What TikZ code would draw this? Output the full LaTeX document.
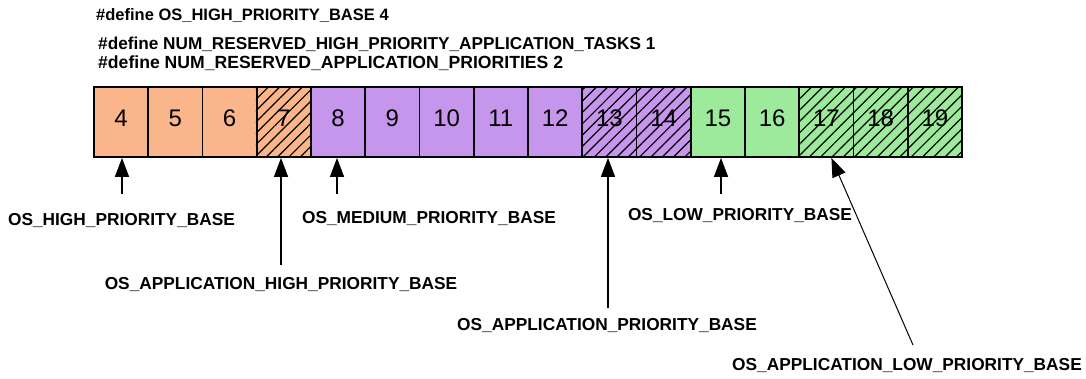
\documentclass[tikz,border=0pt]{standalone}
\usepackage{fontspec}
\setmainfont{Liberation Sans}
\usetikzlibrary{arrows.meta,patterns.meta}
\definecolor{hiprio}{HTML}{FAB68A}
\definecolor{medprio}{HTML}{C695EC}
\definecolor{loprio}{HTML}{9DEA9D}
\tikzset{slot/.style={draw,line width=1.8pt,minimum width=54.25pt,minimum height=70pt,inner sep=0pt,text depth=7pt,font=\fontsize{24}{24}\selectfont},
  rsv/.style={pattern={Lines[angle=45,distance=8pt,line width=1.2pt]}},
  defn/.style={anchor=west,inner sep=0pt,font=\bfseries\fontsize{16.5}{18}\selectfont},
  lbl/.style={inner sep=0pt,font=\bfseries\fontsize{17.3}{19}\selectfont},
  ptr/.style={-{Triangle[length=19pt,width=14pt]},line width=1.4pt}}

\begin{document}
\begin{tikzpicture}[x=1pt,y=-1pt]
  \useasboundingbox (0,0) rectangle (1086,378);
  \node[defn] (d1) at (96,16) {\#define OS\_HIGH\_PRIORITY\_BASE 4};
  \node[defn,font=\bfseries\fontsize{17.2}{18}\selectfont] (d2) at (98,44) {\#define NUM\_RESERVED\_HIGH\_PRIORITY\_APPLICATION\_TASKS 1};
  \node[defn,font=\bfseries\fontsize{17.6}{18}\selectfont] (d3) at (98,63) {\#define NUM\_RESERVED\_APPLICATION\_PRIORITIES 2};
  \foreach \n/\c in {4/hiprio,5/hiprio,6/hiprio,7/hiprio,8/medprio,9/medprio,10/medprio,11/medprio,12/medprio,13/medprio,14/medprio,15/loprio,16/loprio,17/loprio,18/loprio,19/loprio}{\node[slot,fill=\c] (c\n) at ({121.125+54.25*(\n-4)},122) {\n};}
  \foreach \n in {7,13,14,17,18,19}{\path[rsv] (c\n.south west) rectangle (c\n.north east);}
  \node[lbl] (l1) at (121.5,221) {OS\_HIGH\_PRIORITY\_BASE};
  \node[lbl] (l2) at (281,285) {OS\_APPLICATION\_HIGH\_PRIORITY\_BASE};
  \node[lbl] (l3) at (429,219) {OS\_MEDIUM\_PRIORITY\_BASE};
  \node[lbl] (l4) at (607,326) {OS\_APPLICATION\_PRIORITY\_BASE};
  \node[lbl] (l5) at (740,216) {OS\_LOW\_PRIORITY\_BASE};
  \node[lbl] (l6) at (907,366) {OS\_APPLICATION\_LOW\_PRIORITY\_BASE};
  \coordinate (t1) at (122,194);
  \coordinate (t2) at (281,265);
  \coordinate (t3) at (337,194);
  \coordinate (t4) at (608,308);
  \coordinate (t5) at (721,194);
  \coordinate (t6) at (913,345);
  \draw[ptr] (t1) -- (t1 |- c4.south);
  \draw[ptr] (t2) -- (t2 |- c7.south);
  \draw[ptr] (t3) -- (t3 |- c8.south);
  \draw[ptr] (t4) -- (t4 |- c13.south);
  \draw[ptr] (t5) -- (t5 |- c15.south);
  \draw[ptr,line width=1pt] (t6) -- ([xshift=5pt]c17.south);
\end{tikzpicture}
\end{document}
